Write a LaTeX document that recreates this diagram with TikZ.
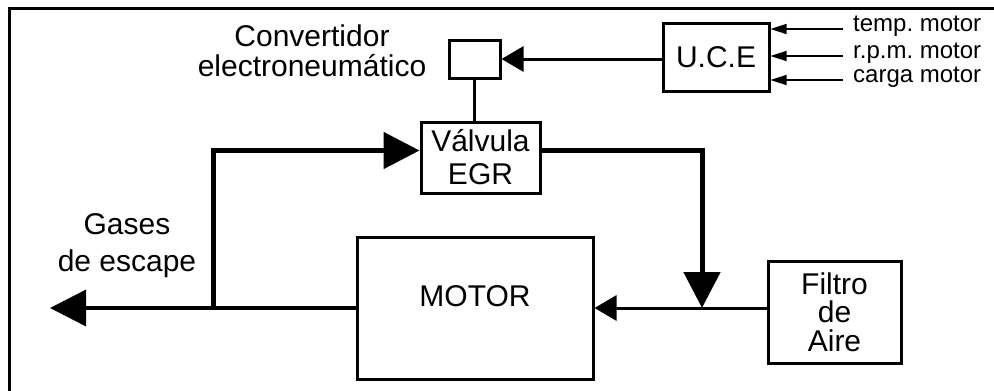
\documentclass[tikz,border=0pt]{standalone}
\usepackage{fontspec}
\setmainfont{Liberation Sans}
\usepackage{tikz}
\usetikzlibrary{arrows.meta,positioning}

\begin{document}
\begin{tikzpicture}[x=1pt,y=-1pt,
        blk/.style={draw, line width=3pt, inner sep=0pt, align=center, font=\fontsize{30}{33}\selectfont},
        lbl/.style={inner sep=0pt, align=center, font=\fontsize{30}{33}\selectfont},
        sig/.style={inner sep=0pt, anchor=mid west, font=\fontsize{24}{24}\selectfont},
        bigtip/.style={-{Triangle[length=36pt,width=36pt]}, line width=5pt},
        midtip/.style={-{Triangle[length=22pt,width=25pt]}, line width=3pt},
        smalltip/.style={-{Triangle[length=16pt,width=10pt]}, line width=1.5pt}]
        \useasboundingbox (0,0) rectangle (994,391);

        % Frame
        \draw[line width=2.5pt] (9.5,391) -- (9.5,8.5) -- (994,8.5);

        % Boxes
        \node[blk, minimum width=51pt, minimum height=38pt] (conv) at (474.5,59) {};
        \node[blk, minimum width=106pt, minimum height=68pt] (uce) at (716,57) {U.C.E};
        \node[blk, minimum width=119pt, minimum height=71pt] (valve) at (480.5,157.5) {V\'alvula\\EGR};
        \node[blk, minimum width=236pt, minimum height=142pt] (motor) at (475,308) {};
        \node[lbl] (motortxt) at (475,296) {MOTOR};
        \node[blk, minimum width=133pt, minimum height=102pt,
              font=\fontsize{30}{28.5}\selectfont] (filtro) at (834.5,312) {Filtro\\de\\Aire};

        % Labels
        \node[lbl, font=\fontsize{30}{30}\selectfont] (convtxt) at (312,51) {Convertidor\\electroneum\'atico};
        \node[lbl, font=\fontsize{30}{37}\selectfont] (gases) at (127,246) {Gases\\de escape};

        % Sensor inputs to U.C.E
        \node[sig] (tmot) at (853,29) {temp.~motor};
        \node[sig] (rpm) at (853,56) {r.p.m.~motor};
        \node[sig] (carga) at (853,80) {carga motor};
        \foreach \s in {tmot,rpm,carga}
            \draw[smalltip] ([xshift=-10pt]\s.mid west) -- (\s.mid west -| uce.east);

        % Control signal
        \draw[midtip] (uce.west |- conv.east) -- (conv.east);
        \draw[line width=3pt] (conv.south) -- (conv.south |- valve.north);

        % Gas flow
        \coordinate (gout) at (50,308);
        \coordinate (jgas) at (213,308);
        \coordinate (jair) at (702,308);
        \draw[-{Triangle[length=36pt,width=36pt]}, line width=3.5pt] (motor.west) -- (gout);
        \draw[bigtip] (jgas) |- ([yshift=7pt]valve.west);
        \draw[bigtip] ([yshift=7pt]valve.east) -| (jair);
        \draw[midtip] (filtro.west |- motor.east) -- (motor.east);
    \end{tikzpicture}
\end{document}
